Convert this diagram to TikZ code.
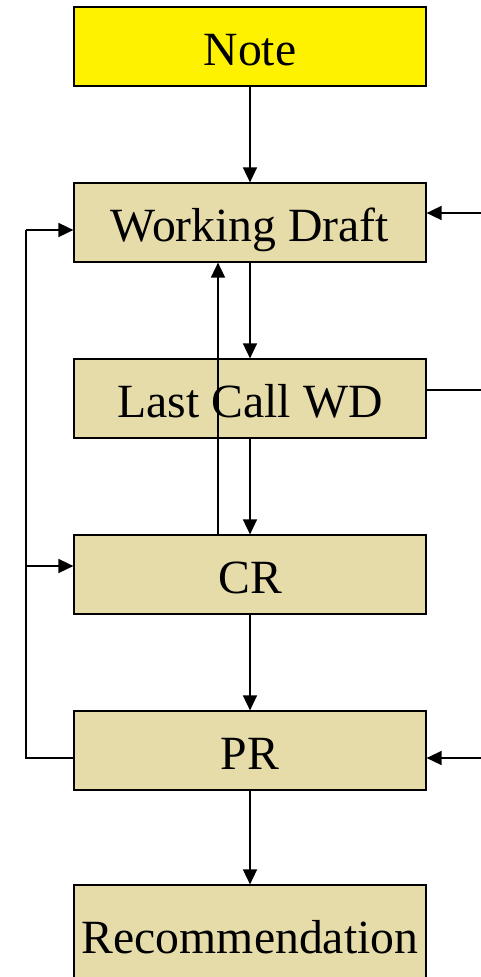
\documentclass[tikz,border=0pt]{standalone}
\usepackage{fontspec}
\setmainfont{Liberation Serif}
\usetikzlibrary{arrows.meta}
\definecolor{boxtan}{RGB}{230,220,170}
\tikzset{stage/.style={draw, line width=1.2pt, fill=boxtan,
         minimum width=352pt, minimum height=79pt, inner sep=0pt,
         text height=44pt, text depth=6pt,
         font=\fontsize{47.7}{50}\selectfont},
         wire/.style={line width=1.6pt},
         flow/.style={wire, -{Triangle[length=15pt,width=14pt]}}}

\begin{document}
\begin{tikzpicture}[x=1pt,y=-1pt]
      \useasboundingbox (0,0) rectangle (481,977);
      \node[stage, fill=yellow] (note) at (250,46.5) {Note};
      \node[stage] (wd) at (250,222.5) {Working Draft};
      \node[stage] (lc) at (250,398.5) {Last Call WD};
      \node[stage] (cr) at (250,574.5) {CR};
      \node[stage] (pr) at (250,750.5) {PR};
      \node[stage, minimum height=98pt] (rec) at (250,934) {Recommendation};

      \draw[flow] (note) -- (wd);
      \draw[flow] (wd) -- (lc);
      \draw[flow] (lc) -- (cr);
      \draw[flow] ([xshift=-32pt]cr.north) -- ([xshift=-32pt]wd.south);
      \draw[flow] (cr) -- (pr);
      \draw[flow] (pr) -- (rec.north);

      % loop back on the left
      \coordinate (loopbot) at (26,758);
      \coordinate (loopmid) at (26,566);
      \coordinate (looptop) at (26,230);
      \draw[wire] (pr.west |- loopbot) -- (loopbot) -- (looptop);
      \draw[flow] (looptop) -- (wd.west |- looptop);
      \draw[flow] (loopmid) -- (cr.west |- loopmid);

      % links off to the right
      \coordinate (inwd) at (481,213);
      \coordinate (outlc) at (481,390);
      \coordinate (inpr) at (481,758);
      \draw[flow] (inwd) -- (wd.east |- inwd);
      \draw[wire] (lc.east |- outlc) -- (outlc);
      \draw[flow] (inpr) -- (pr.east |- inpr);
    \end{tikzpicture}
\end{document}
